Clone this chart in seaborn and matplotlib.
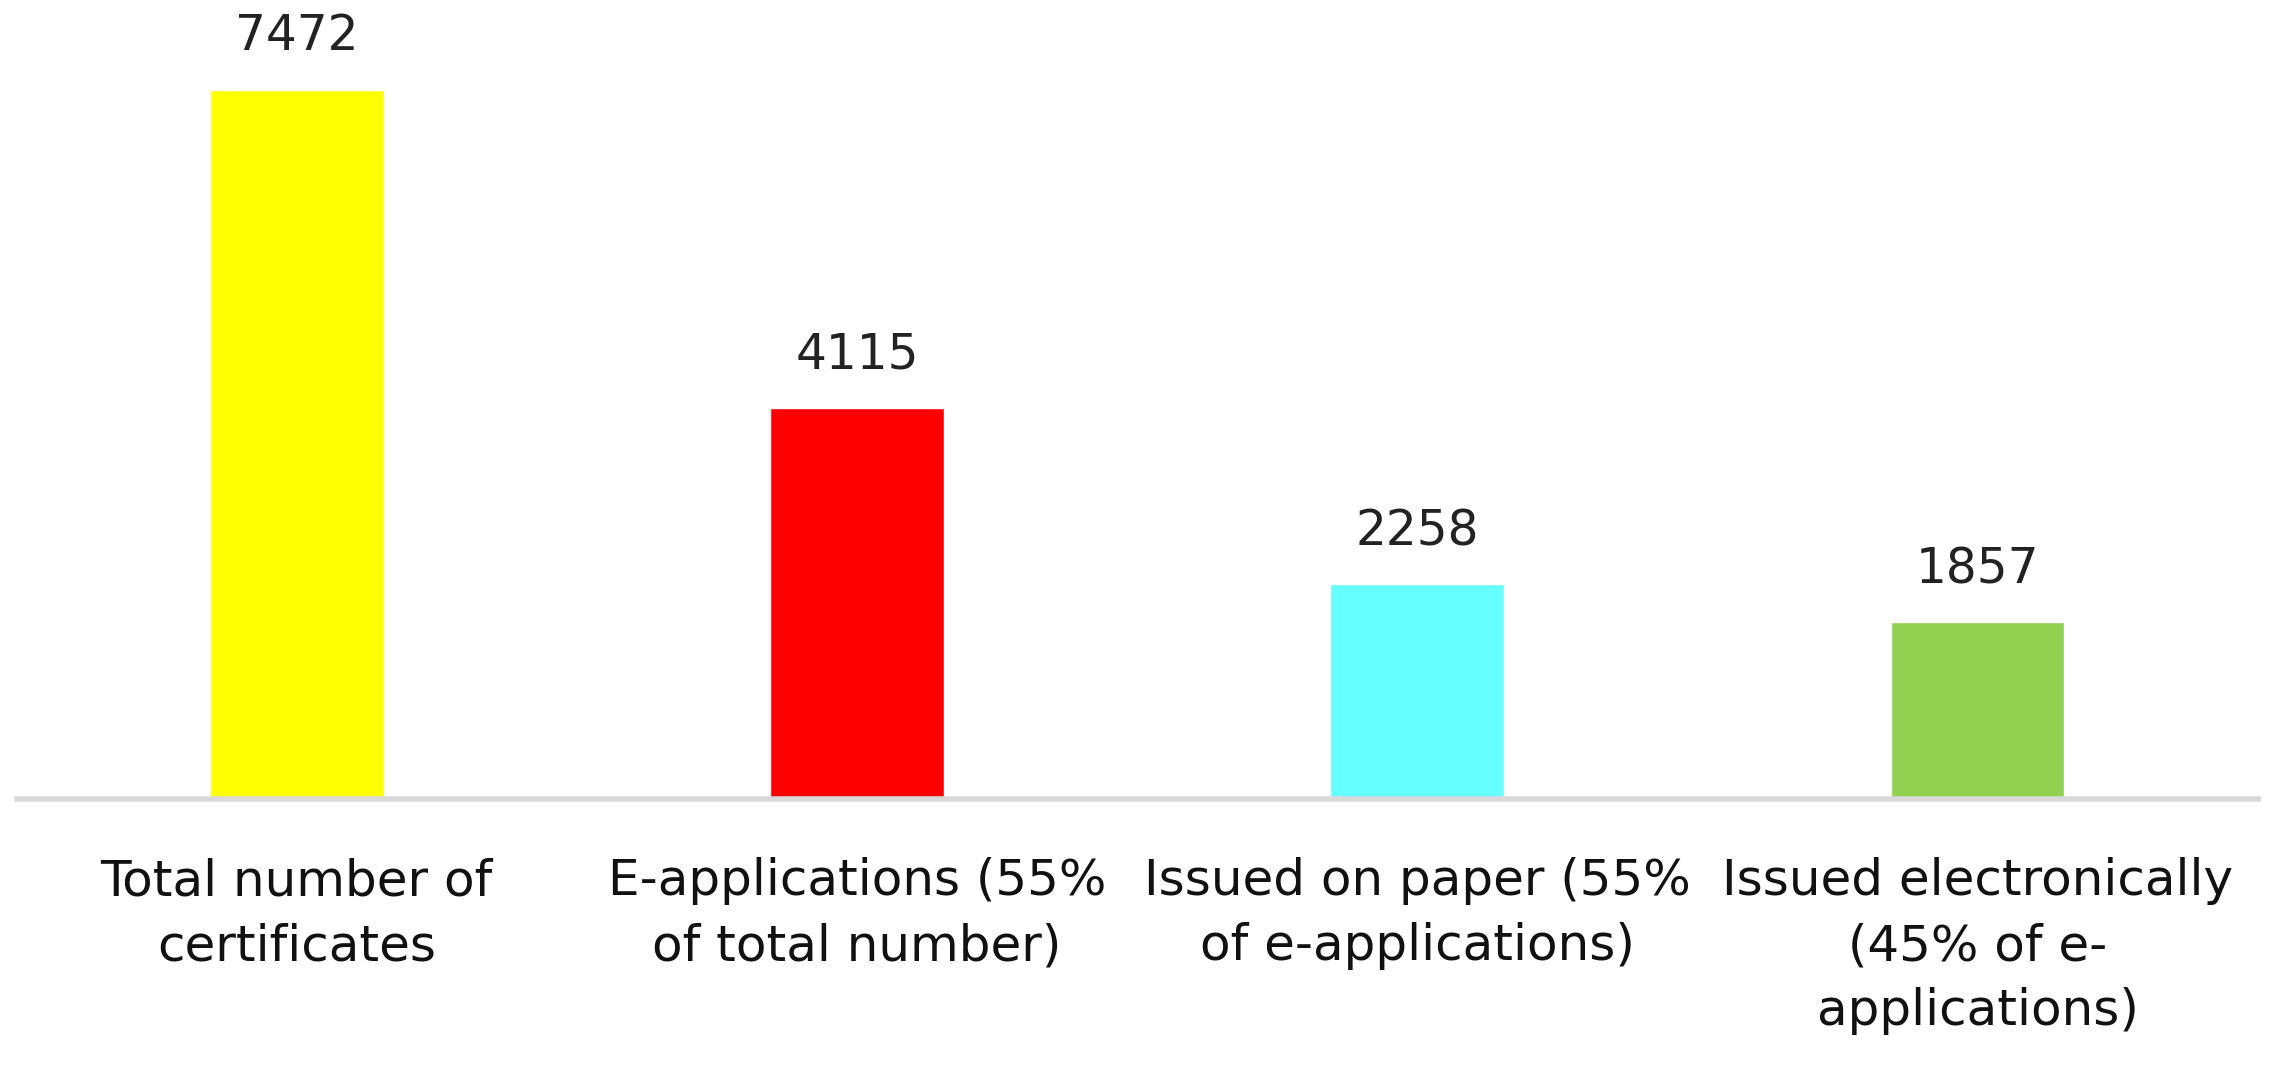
import pandas as pd
import matplotlib
matplotlib.use('Agg')
import matplotlib.pyplot as plt
import seaborn as sns

categories = ['Total number of\ncertificates',
              'E-applications (55%\nof total number)',
              'Issued on paper (55%\nof e-applications)',
              'Issued electronically\n(45% of e-\napplications)']
counts = [7472, 4115, 2258, 1857]
colors = ['#FFFF00', '#FF0000', '#66FFFF', '#92D050']

df = pd.DataFrame({'category': categories, 'count': counts})

sns.set_style('white')
plt.rcParams['font.family'] = ['DejaVu Sans']

fig = plt.figure(figsize=(22.7, 10.65), dpi=100)
ax = fig.add_axes([0.0073, 0.25, 0.9873, 0.713])

sns.barplot(data=df, x='category', y='count', hue='category', palette=colors,
            width=0.31, legend=False, ax=ax, saturation=1)

for i, v in enumerate(counts):
    ax.text(i, v + 310, str(v), ha='center', va='bottom', fontsize=35, color='#222222')

ax.set_xlim(-0.5, 3.5)
ax.set_ylim(0, 8000)
ax.set_xlabel('')
ax.set_ylabel('')
ax.set_yticks([])
ax.tick_params(axis='x', length=0, pad=42, labelsize=36, labelcolor='#111111')
for lbl in ax.get_xticklabels():
    lbl.set_linespacing(1.45)
for s in ['top', 'right', 'left']:
    ax.spines[s].set_visible(False)
ax.spines['bottom'].set_color('#D9D9D9')
ax.spines['bottom'].set_linewidth(4)

fig.savefig('out.png', dpi=100)
